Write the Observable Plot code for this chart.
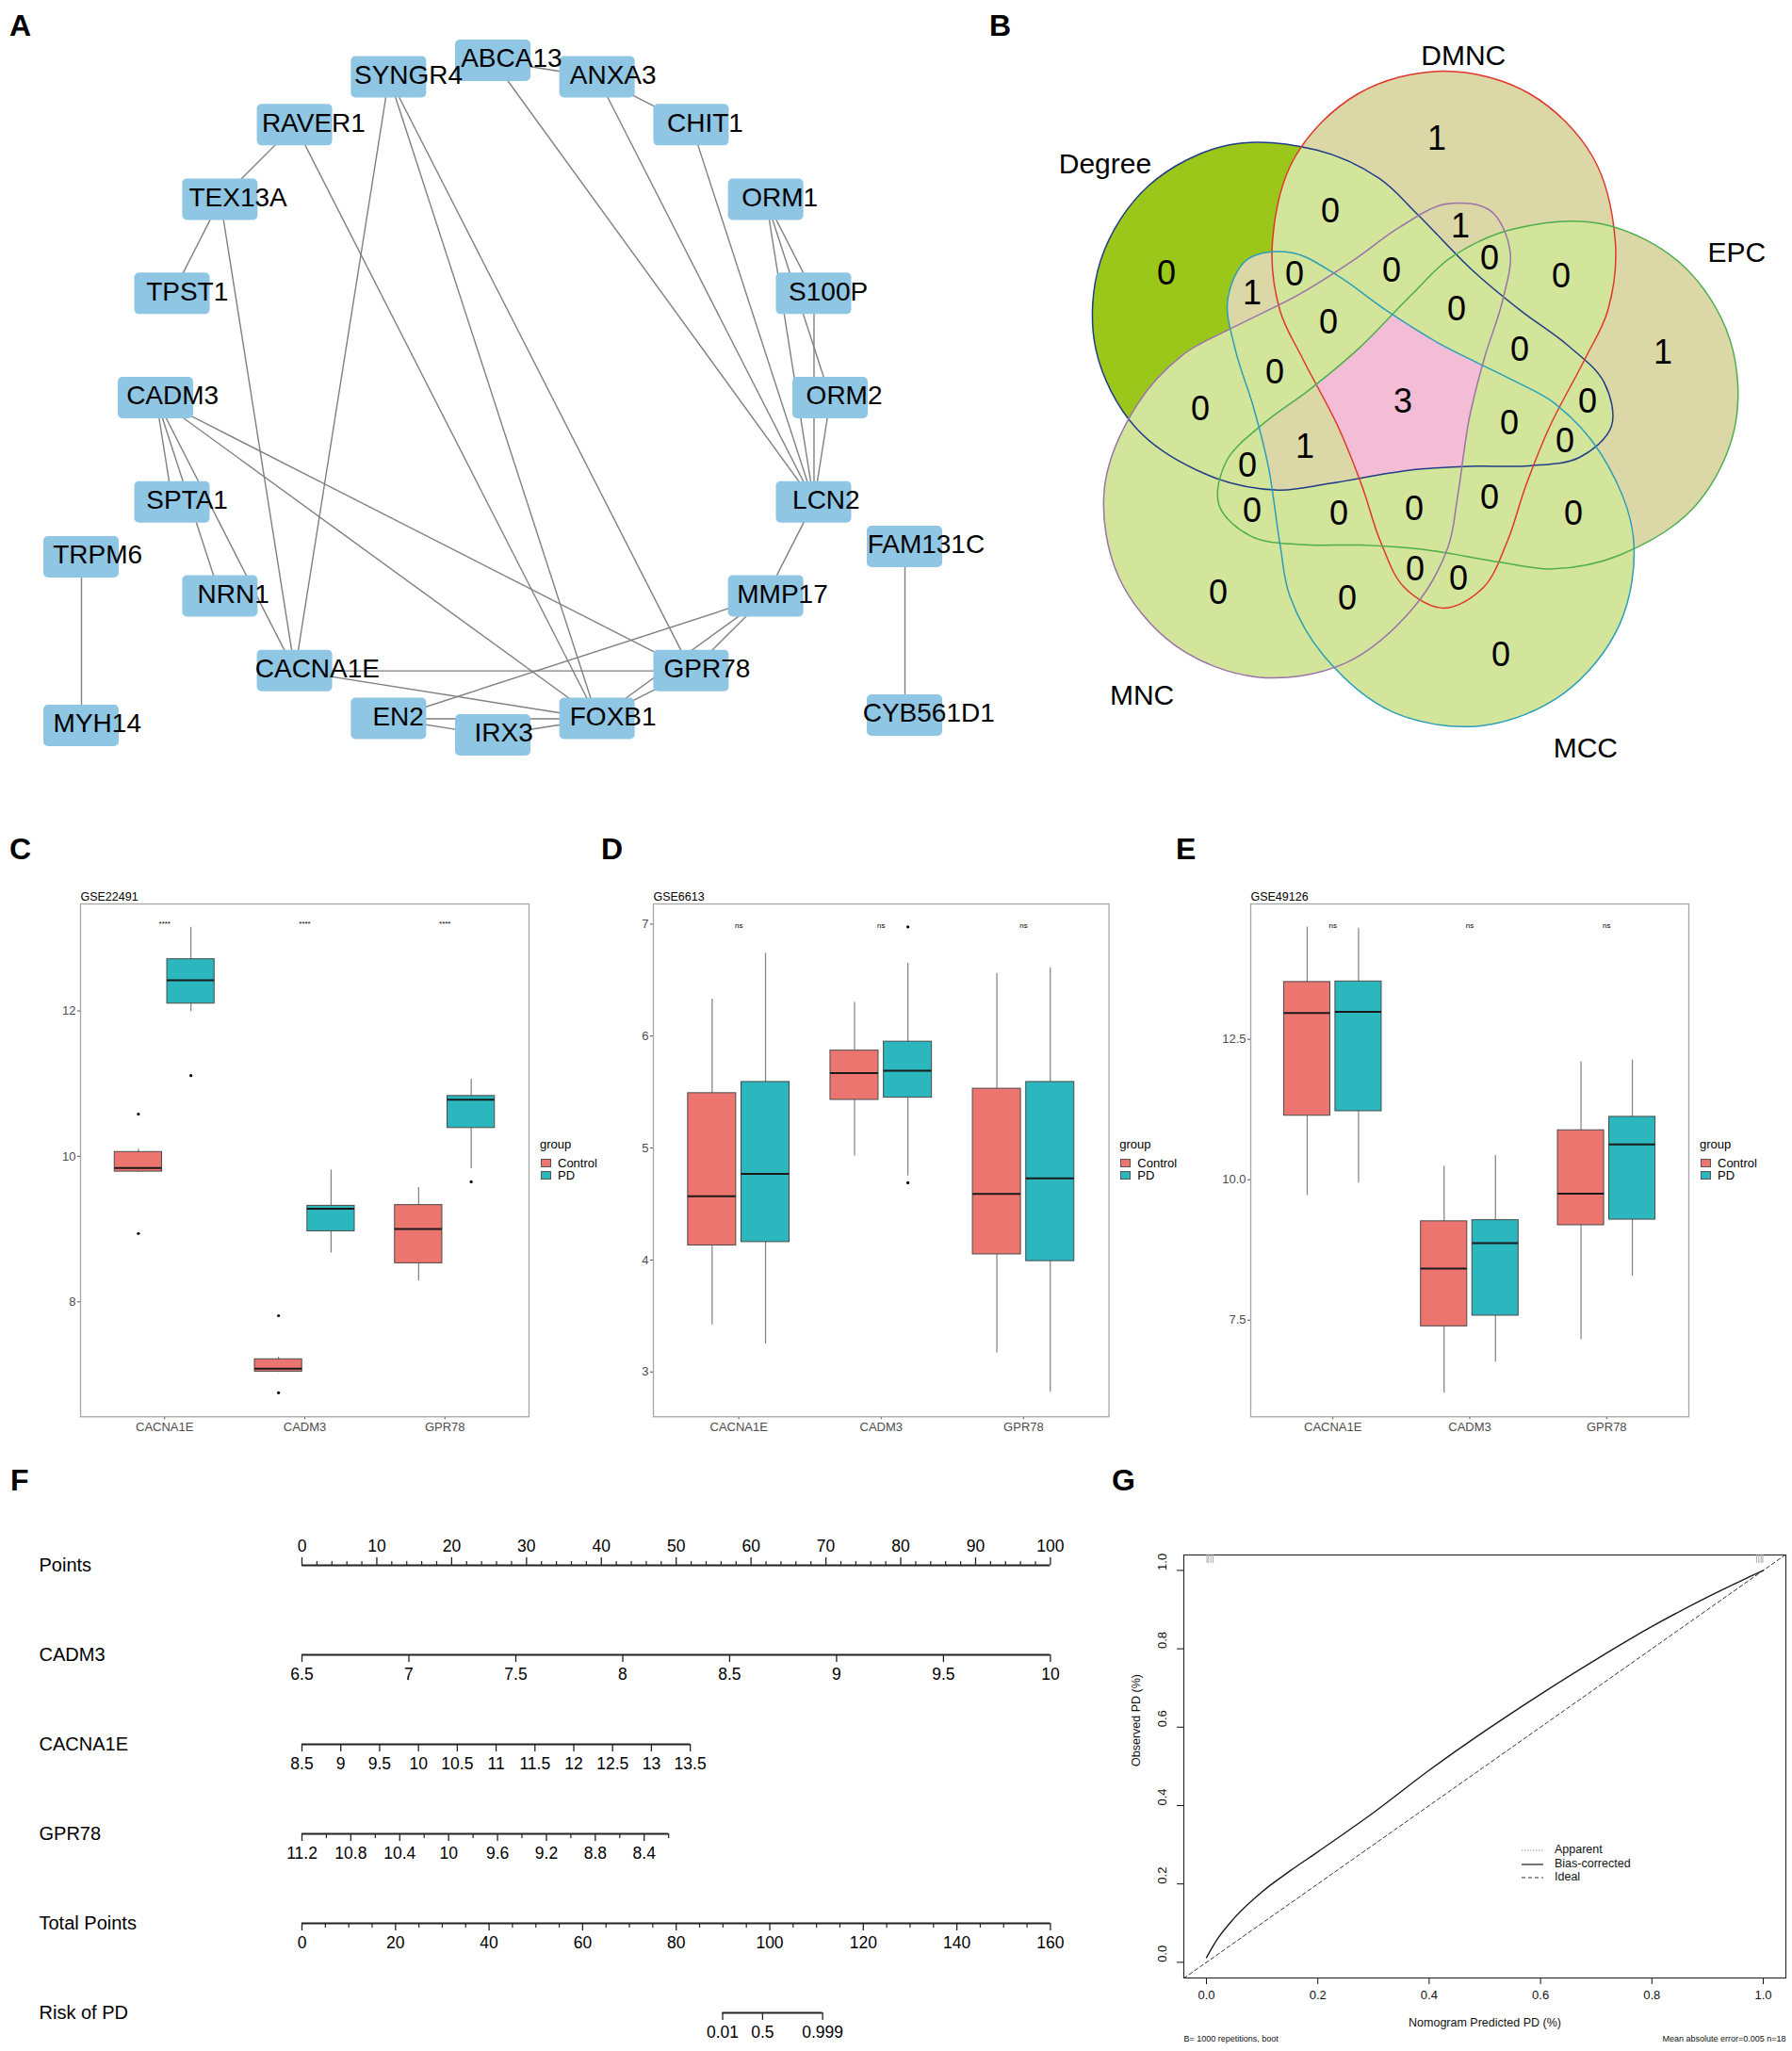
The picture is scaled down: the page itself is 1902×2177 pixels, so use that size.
<!DOCTYPE html>
<html><head><meta charset="utf-8">
<script src="https://cdn.jsdelivr.net/npm/d3@7"></script>
<script src="https://cdn.jsdelivr.net/npm/@observablehq/plot@0.6"></script>
<style>
body{margin:0;background:#fff;}
#fig{position:relative;width:1902px;height:2177px;overflow:hidden;background:#fff;font-family:'Liberation Sans',Arial,Helvetica,sans-serif;}
.panel{position:absolute}
.panel svg{max-width:none!important;overflow:visible}
.letter{position:absolute;font-weight:bold;font-size:32px;line-height:1;color:#000}
.lg{position:absolute;font-size:13px;line-height:13px;color:#000;white-space:nowrap}
</style></head><body><div id="fig"></div><script>
// ===================== DATA =====================
// Panel A: PPI network (circular layout order, clockwise from top)
const circleNodes = ["ABCA13","ANXA3","CHIT1","ORM1","S100P","ORM2","LCN2","MMP17","GPR78","FOXB1",
  "IRX3","EN2","CACNA1E","NRN1","SPTA1","CADM3","TPST1","TEX13A","RAVER1","SYNGR4"];
const pairNodes = [["TRPM6","MYH14"],["FAM131C","CYB561D1"]];
const edges = [
  ["ABCA13","ANXA3"],["ANXA3","CHIT1"],["ABCA13","LCN2"],["ANXA3","LCN2"],["CHIT1","LCN2"],
  ["ORM1","S100P"],["ORM1","ORM2"],["ORM1","LCN2"],["S100P","LCN2"],["ORM2","LCN2"],
  ["LCN2","MMP17"],["MMP17","GPR78"],["MMP17","FOXB1"],["MMP17","EN2"],["GPR78","FOXB1"],
  ["FOXB1","IRX3"],["FOXB1","EN2"],["EN2","IRX3"],["CACNA1E","GPR78"],["CACNA1E","FOXB1"],
  ["SYNGR4","CACNA1E"],["SYNGR4","FOXB1"],["SYNGR4","GPR78"],["RAVER1","TEX13A"],["RAVER1","FOXB1"],
  ["TEX13A","TPST1"],["TEX13A","CACNA1E"],["CADM3","SPTA1"],["CADM3","NRN1"],["CADM3","CACNA1E"],
  ["CADM3","FOXB1"],["CADM3","GPR78"],["TRPM6","MYH14"],["FAM131C","CYB561D1"]
];

// Panel B: five-set Venn (membership key in order of vennSets) and gene counts
const vennSets = ["Degree","DMNC","EPC","MCC","MNC"];
const vennKeys = ["10000","01000","00100","00010","00001",
  "11000","10100","10010","10001","01100","01010","01001","00110","00101","00011",
  "11100","11010","11001","10110","10101","10011","01110","01101","01011","00111",
  "11110","11101","11011","10111","01111","11111"];
const vennCounts = [0,1,1,0,0, 0,0,1,0,0,0,1,0,0,0, 0,0,0,0,0,0,0,0,0,0, 0,0,0,1,0, 3];

// Panels C-E: boxplot summaries per gene: [lower whisker, Q1, median, Q3, upper whisker]
const genes = ["CACNA1E","CADM3","GPR78"];
const groups = ["Control","PD"];
const gse22491Control = [[9.78,9.79,9.84,10.06,10.10],[7.03,7.04,7.08,7.21,7.24],[8.29,8.53,9.00,9.33,9.57]];
const gse22491PD      = [[11.99,12.10,12.42,12.71,13.15],[8.67,8.97,9.28,9.32,9.81],[9.83,10.39,10.78,10.83,11.06]];
const gse22491Out = [{gene:"CACNA1E",group:"Control",value:10.58},{gene:"CACNA1E",group:"Control",value:8.94},
  {gene:"CADM3",group:"Control",value:7.81},{gene:"CADM3",group:"Control",value:6.75},
  {gene:"CACNA1E",group:"PD",value:11.11},{gene:"GPR78",group:"PD",value:9.65}];
const gse6613Control = [[3.42,4.13,4.57,5.49,6.33],[4.93,5.43,5.67,5.87,6.30],[3.17,4.05,4.59,5.53,6.56]];
const gse6613PD      = [[3.25,4.16,4.77,5.59,6.74],[4.75,5.45,5.69,5.95,6.65],[2.82,3.99,4.73,5.59,6.61]];
const gse6613Out = [{gene:"CADM3",group:"PD",value:6.975},{gene:"CADM3",group:"PD",value:4.69}];
const gse49126Control = [[9.72,11.14,12.97,13.52,14.50],[6.20,7.39,8.42,9.26,10.24],[7.15,9.19,9.75,10.88,12.10]];
const gse49126PD      = [[9.94,11.22,12.99,13.53,14.48],[6.75,7.58,8.87,9.28,10.43],[8.28,9.29,10.63,11.12,12.13]];
const gse49126Out = [];

// Panel F: nomogram
const nomoRows = ["Points","CADM3","CACNA1E","GPR78","Total Points","Risk of PD"];
const nomoVars = ["CADM3","CACNA1E","GPR78"];
const nomoRef = [6.5, 8.5, 11.2];          // value that scores 0 points
const nomoSlope = [28.571, 10.376, -16.33]; // points per unit
const cadm3Ticks = [6.5,7,7.5,8,8.5,9,9.5,10];
const cacna1eTicks = [8.5,9,9.5,10,10.5,11,11.5,12,12.5,13,13.5];
const gpr78Labels = [11.2,10.8,10.4,10,9.6,9.2,8.8,8.4];
const gpr78Ticks = [11.2,11,10.8,10.6,10.4,10.2,10,9.8,9.6,9.4,9.2,9,8.8,8.6,8.4,8.2];
const totalMax = 160;
const riskTicks = [0.01, 0.5, 0.999];
const riskMid = 98.47, riskSlope = 0.538;  // total points at p=0.5, logit per point

// Panel G: calibration
const calX = [0, 0.02, 0.05, 0.1, 0.15, 0.2, 0.3, 0.4, 0.5, 0.6, 0.7, 0.8, 0.9, 1.0];
const calY = [0.012, 0.06, 0.113, 0.18, 0.233, 0.282, 0.382, 0.49, 0.59, 0.684, 0.773, 0.857, 0.932, 1.0];
const rugLow = [0.001, 0.004, 0.008, 0.012];
const rugHigh = [0.988, 0.992, 0.996, 0.999];

// ===================== HELPERS =====================
const FONT = "'Liberation Sans', Arial, Helvetica, sans-serif";
const fig = document.getElementById("fig");
function place(el, left, top) {
  const w = document.createElement("div"); w.className = "panel";
  w.style.left = left + "px"; w.style.top = top + "px";
  w.appendChild(el); fig.appendChild(w); return w;
}
function letter(t, left, top) {
  const d = document.createElement("div"); d.className = "letter"; d.textContent = t;
  d.style.left = left + "px"; d.style.top = top + "px"; fig.appendChild(d);
}
const baseStyle = {fontFamily: FONT, background: "transparent", overflow: "visible", maxWidth: "none"};
const CTRL_COL = "#ec7570", PD_COL = "#2bb7bd";

// ===================== PANEL A =====================
{
  const cx = 523, cy = 422, R = 358;
  const pos = new Map();
  circleNodes.forEach((n, i) => {
    const a = 2 * Math.PI * i / circleNodes.length;
    pos.set(n, {x: cx + R * Math.sin(a), y: cy - R * Math.cos(a)});
  });
  const pairLayout = [{dx: -437, dy: 169}, {dx: 437, dy: 158}], pairGap = 179;
  pairNodes.forEach((p, k) => p.forEach((n, j) => pos.set(n, {x: cx + pairLayout[k].dx, y: cy + pairLayout[k].dy + j * pairGap})));
  const ctx = document.createElement("canvas").getContext("2d");
  ctx.font = "28px " + FONT;
  const nodes = [...pos].map(([name, p]) => ({name, x: p.x, y: p.y, lx: p.x + 0.18 * ctx.measureText(name).width}));
  const links = edges.map(([a, b]) => ({x1: pos.get(a).x, y1: pos.get(a).y, x2: pos.get(b).x, y2: pos.get(b).y}));
  const p = Plot.plot({
    width: 1050, height: 830, margin: 0,
    style: baseStyle,
    x: {domain: [0, 1050], range: [0, 1050], axis: null},
    y: {domain: [0, 830], range: [0, 830], axis: null},
    marks: [
      Plot.link(links, {x1: "x1", y1: "y1", x2: "x2", y2: "y2", stroke: "#808080", strokeWidth: 1.4}),
      Plot.rect(nodes, {x1: d => d.x - 40, x2: d => d.x + 40, y1: d => d.y - 22, y2: d => d.y + 22, fill: "#8fc6e4", rx: 5}),
      Plot.text(nodes, {x: "lx", y: "y", text: "name", fontSize: 28, fill: "#000", dy: -2})
    ]
  });
  place(p, 0, 0);
  letter("A", 10, 11);
}

// ===================== PANEL B =====================
{
  const X0 = 1100, WB = 802, HB = 830;
  const C = [1488, 426], B0 = [1532, 257];
  const rot = [-72, 0, 72, 144, 216];
  const strokes = ["#203c88", "#e0352c", "#4cae4f", "#2a9fb9", "#9a73a9"];
  // petal shape: (lateral, along-axis) control points relative to the big-end centre
  const profile = [[0,-182],[91,-158],[158,-91],[182,0],[174,72],[150,123],[112,196],[87,258],[67,318],[42,366],[0,388]];
  const petal = profile.concat(profile.slice(1, -1).reverse().map(([l, a]) => [-l, a]));
  const shapes = rot.map(deg => {
    const t = deg * Math.PI / 180, c = Math.cos(t), s = Math.sin(t);
    const dx = B0[0] - C[0], dy = B0[1] - C[1];
    const bx = C[0] + dx * c - dy * s, by = C[1] + dx * s + dy * c, ux = -s, uy = c;
    return {bx, by, pts: petal.map(([l, a]) => [bx + l * uy + a * ux, by - l * ux + a * uy])};
  });
  // rasterise each petal to a membership mask
  const cv = document.createElement("canvas"); cv.width = WB; cv.height = HB;
  const g = cv.getContext("2d");
  const mask = new Uint8Array(WB * HB);
  shapes.forEach((sh, si) => {
    g.clearRect(0, 0, WB, HB); g.beginPath();
    d3.line().curve(d3.curveCatmullRomClosed).context(g)(sh.pts.map(([x, y]) => [x - X0, y]));
    g.fillStyle = "#000"; g.fill();
    const data = g.getImageData(0, 0, WB, HB).data;
    for (let i = 0; i < WB * HB; i++) if (data[4 * i + 3] >= 128) mask[i] |= (16 >> si);
  });
  const fillByCount = {0: "#d3e49b", 1: "#dcd7a7", 3: "#f4bdd6"};
  const highlight = {"10000": "#9bc71b"};
  const colorByMask = new Array(32).fill("#ffffff");
  const countByMask = new Array(32).fill(null);
  vennKeys.forEach((k, i) => {
    const m = parseInt(k, 2);
    colorByMask[m] = highlight[k] || fillByCount[vennCounts[i]] || "#d3e49b";
    countByMask[m] = vennCounts[i];
  });
  // label positions: pole of inaccessibility of each region (chamfer distance transform)
  const nx = WB, ny = HB, M = mask;
  const D = new Float32Array(nx * ny);
  for (let j = 0; j < ny; j++) for (let i = 0; i < nx; i++) {
    const id = j * nx + i, m = M[id];
    let b = i === 0 || j === 0 || i === nx - 1 || j === ny - 1;
    if (!b) b = M[id - 1] !== m || M[id + 1] !== m || M[id - nx] !== m || M[id + nx] !== m;
    D[id] = b ? 0 : 1e9;
  }
  const S2 = Math.SQRT2;
  for (let j = 1; j < ny; j++) for (let i = 1; i < nx - 1; i++) {
    const id = j * nx + i;
    D[id] = Math.min(D[id], D[id - 1] + 1, D[id - nx] + 1, D[id - nx - 1] + S2, D[id - nx + 1] + S2);
  }
  for (let j = ny - 2; j >= 0; j--) for (let i = nx - 2; i > 0; i--) {
    const id = j * nx + i;
    D[id] = Math.min(D[id], D[id + 1] + 1, D[id + nx] + 1, D[id + nx + 1] + S2, D[id + nx - 1] + S2);
  }
  const best = new Array(32).fill(null);
  for (let id = 0; id < nx * ny; id++) {
    const m = M[id]; if (!m) continue;
    if (!best[m] || D[id] > best[m].d) best[m] = {d: D[id], x: X0 + id % nx + .5, y: Math.floor(id / nx) + .5};
  }
  const labels = [];
  best.forEach((b, m) => { if (b && countByMask[m] != null) labels.push({x: b.x, y: b.y, n: countByMask[m]}); });
  const outline = [];
  shapes.forEach((sh, si) => sh.pts.forEach(([x, y]) => outline.push({set: vennSets[si], col: strokes[si], x, y})));
  const labAng = [-136.8, -84, -39.2, 57.5, 125.1], labDist = [231, 199, 233, 243, 246];
  const setLabels = shapes.map((sh, i) => ({name: vennSets[i], x: sh.bx + labDist[i] * Math.cos(labAng[i] * Math.PI / 180), y: sh.by + labDist[i] * Math.sin(labAng[i] * Math.PI / 180)}));
  const maskFill = (x, y) => {
    const i = Math.min(WB - 1, Math.max(0, Math.floor(x - X0))), j = Math.min(HB - 1, Math.max(0, Math.floor(y)));
    return colorByMask[mask[j * WB + i]];
  };
  let fillMark;
  if (Plot.raster) {
    fillMark = Plot.raster({x1: X0, x2: X0 + WB, y1: 0, y2: HB, width: WB, height: HB, fill: maskFill});
  } else {
    const c2 = document.createElement("canvas"); c2.width = WB; c2.height = HB;
    const g2 = c2.getContext("2d");
    for (let j = 0; j < HB; j++) for (let i = 0; i < WB; i++) { g2.fillStyle = maskFill(X0 + i + .5, j + .5); g2.fillRect(i, j, 1, 1); }
    fillMark = Plot.image([0], {x: X0 + WB / 2, y: HB / 2, width: WB, height: HB, src: c2.toDataURL(), preserveAspectRatio: "none"});
  }
  const p = Plot.plot({
    width: WB, height: HB, margin: 0, style: baseStyle,
    x: {domain: [X0, X0 + WB], range: [0, WB], axis: null},
    y: {domain: [0, HB], range: [0, HB], axis: null},
    color: {type: "identity"},
    marks: [
      fillMark,
      Plot.line(outline, {x: "x", y: "y", z: "set", stroke: "col", strokeWidth: 1.5, curve: "catmull-rom-closed"}),
      Plot.text(labels, {x: "x", y: "y", text: "n", fontSize: 36, fill: "#000"}),
      Plot.text(setLabels, {x: "x", y: "y", text: "name", fontSize: 30, fill: "#000"})
    ]
  });
  place(p, X0, 0);
  letter("B", 1050, 11);
}

// ===================== PANELS C-E =====================
function boxLegend(left, top) {
  const items = [["group", null], ["Control", CTRL_COL], ["PD", PD_COL]];
  items.forEach(([t, col], i) => {
    const d = document.createElement("div"); d.className = "lg";
    d.style.left = (left + (col ? 19 : 0)) + "px"; d.style.top = (top + (i === 0 ? 0 : 7 + i * 13)) + "px";
    d.textContent = t; fig.appendChild(d);
    if (col) {
      const k = document.createElement("div");
      k.style.cssText = `position:absolute;left:${left + 1}px;top:${top + 9 + i * 13}px;width:9px;height:7px;background:${col};border:1px solid #555;`;
      fig.appendChild(k);
    }
  });
}
function boxPanel(title, ctrl, pd, outliers, sigText, sigY, yDomain, yTicks, yFmt, frame) {
  const boxes = [];
  genes.forEach((g, i) => [ctrl, pd].forEach((arr, k) => {
    const [lo, q1, med, q3, hi] = arr[i];
    const xc = i + 1 + (k ? 0.1875 : -0.1875);
    boxes.push({gene: g, group: groups[k], xc, xa: xc - 0.16875, xb: xc + 0.16875, lo, q1, med, q3, hi});
  }));
  const outs = outliers.map(o => ({...o, xc: genes.indexOf(o.gene) + 1 + (o.group === "PD" ? 0.1875 : -0.1875)}));
  const ML = 45, MR = 12, MT = 40, MB = 40;
  const fw = frame.x2 - frame.x1, fh = frame.y2 - frame.y1;
  const p = Plot.plot({
    width: fw + ML + MR, height: fh + MT + MB, marginLeft: ML, marginRight: MR, marginTop: MT, marginBottom: MB,
    style: {...baseStyle, fontSize: "13px", color: "#4d4d4d"},
    x: {domain: [0.4, 3.6], ticks: [1, 2, 3], tickFormat: d => genes[d - 1], tickSize: 3, tickPadding: 3, label: null},
    y: {domain: yDomain, ticks: yTicks, tickFormat: yFmt, tickSize: 3, tickPadding: 2, label: null},
    marks: [
      Plot.ruleX(boxes, {x: "xc", y1: "lo", y2: "hi", stroke: "#808080", strokeWidth: 1.2}),
      Plot.rect(boxes, {x1: "xa", x2: "xb", y1: "q1", y2: "q3", fill: d => d.group === "PD" ? PD_COL : CTRL_COL, stroke: "#4a4a4a", strokeWidth: 1}),
      Plot.ruleY(boxes, {y: "med", x1: "xa", x2: "xb", stroke: "#1a1a1a", strokeWidth: 2}),
      Plot.dot(outs, {x: "xc", y: "value", r: 1.6, fill: "#000"}),
      Plot.text(genes, {x: (d, i) => i + 1, y: () => sigY, text: () => sigText, fontSize: 8, fill: "#000"}),
      Plot.frame({stroke: "#a6a6a6", strokeWidth: 1.3}),
      Plot.text([title], {frameAnchor: "top-left", text: d => d, dy: -3, lineAnchor: "bottom", fontSize: 12.5, fill: "#000"})
    ]
  });
  place(p, frame.x1 - ML, frame.y1 - MT);
  boxLegend(frame.x2 + 12, 1208);
}
boxPanel("GSE22491", gse22491Control, gse22491PD, gse22491Out, "****", 13.2, [6.42, 13.47], [8, 10, 12], d => d, {x1: 85, x2: 561, y1: 958.7, y2: 1503});
boxPanel("GSE6613", gse6613Control, gse6613PD, gse6613Out, "ns", 6.99, [2.60, 7.18], [3, 4, 5, 6, 7], d => d, {x1: 692.7, x2: 1176.3, y1: 958.7, y2: 1503});
boxPanel("GSE49126", gse49126Control, gse49126PD, gse49126Out, "ns", 14.53, [5.78, 14.91], [7.5, 10, 12.5], d3.format(".1f"), {x1: 1327, x2: 1792, y1: 958.7, y2: 1503});
letter("C", 10, 885); letter("D", 638, 885); letter("E", 1248, 885);

// ===================== PANEL F =====================
{
  const varPts = (name, v) => { const i = nomoVars.indexOf(name); return (v - nomoRef[i]) * nomoSlope[i]; };
  const tp2x = tp => tp / totalMax * 100;
  const riskTP = p => riskMid + Math.log(p / (1 - p)) / riskSlope;
  const fmt = v => String(+v.toFixed(3));
  const lines = [], up = [], upMinor = [], down = [], downMinor = [], labUp = [], labDown = [];
  lines.push({row: "Points", p1: 0, p2: 100});
  d3.range(0, 101, 2).forEach(v => (v % 10 === 0 ? up : upMinor).push({row: "Points", p: v}));
  d3.range(0, 101, 10).forEach(v => labUp.push({row: "Points", p: v, t: fmt(v)}));
  const addVar = (name, ticks, labs) => {
    const ps = ticks.map(v => varPts(name, v));
    lines.push({row: name, p1: d3.min(ps), p2: d3.max(ps)});
    ticks.forEach(v => (labs.includes(v) ? down : downMinor).push({row: name, p: varPts(name, v)}));
    labs.forEach(v => labDown.push({row: name, p: varPts(name, v), t: fmt(v)}));
  };
  addVar("CADM3", cadm3Ticks, cadm3Ticks);
  addVar("CACNA1E", cacna1eTicks, cacna1eTicks);
  addVar("GPR78", gpr78Ticks, gpr78Labels);
  lines.push({row: "Total Points", p1: 0, p2: 100});
  d3.range(0, totalMax + 1, 5).forEach(v => (v % 20 === 0 ? down : downMinor).push({row: "Total Points", p: tp2x(v)}));
  d3.range(0, totalMax + 1, 20).forEach(v => labDown.push({row: "Total Points", p: tp2x(v), t: fmt(v)}));
  const rp = riskTicks.map(r => tp2x(riskTP(r)));
  lines.push({row: "Risk of PD", p1: d3.min(rp), p2: d3.max(rp)});
  riskTicks.forEach((r, i) => { down.push({row: "Risk of PD", p: rp[i]}); labDown.push({row: "Risk of PD", p: rp[i], t: fmt(r)}); });

  const p = Plot.plot({
    width: 1180, height: 627, margin: 0, style: {...baseStyle, fontSize: "17px", color: "#000"},
    x: {domain: [0, 100], range: [320, 1114.4], axis: null},
    y: {type: "point", domain: nomoRows, range: [110, 587], padding: 0, axis: null},
    marks: [
      Plot.ruleY(lines, {y: "row", x1: "p1", x2: "p2", stroke: "#222", strokeWidth: 1.8}),
      Plot.ruleX(up, {x: "p", y1: "row", y2: "row", insetTop: -8, stroke: "#222", strokeWidth: 1.3}),
      Plot.ruleX(upMinor, {x: "p", y1: "row", y2: "row", insetTop: -4, stroke: "#222", strokeWidth: 1.2}),
      Plot.ruleX(down, {x: "p", y1: "row", y2: "row", insetBottom: -8, stroke: "#222", strokeWidth: 1.3}),
      Plot.ruleX(downMinor, {x: "p", y1: "row", y2: "row", insetBottom: -5, stroke: "#222", strokeWidth: 1.2}),
      Plot.text(labUp, {x: "p", y: "row", text: "t", dy: -20, fontSize: 17.5, fill: "#000"}),
      Plot.text(labDown, {x: "p", y: "row", text: "t", dy: 21, fontSize: 17.5, fill: "#000"}),
      Plot.text(nomoRows, {y: d => d, text: d => d, frameAnchor: "left", dx: 41, textAnchor: "start", fontSize: 20, fill: "#000"})
    ]
  });
  place(p, 0, 1550);
  letter("F", 11, 1555);
}

// ===================== PANEL G =====================
{
  const xd = [-0.0406, 1.0406], yd = [-0.04, 1.0394];
  const cal = calX.map((x, i) => ({x, y: calY[i]}));
  const ideal = [xd[0], xd[1]].map(v => ({x: v, y: v}));
  const rug = [...rugLow, ...rugHigh];
  const yT = [0, 0.2, 0.4, 0.6, 0.8, 1.0];
  const p = Plot.plot({
    width: 722, height: 627, marginLeft: 76, marginRight: 7, marginTop: 100, marginBottom: 78,
    style: {...baseStyle, fontSize: "13px", color: "#111"},
    x: {domain: xd, ticks: yT, tickFormat: d3.format(".1f"), tickSize: 7, tickPadding: 6, label: null},
    y: {domain: yd, ticks: yT, tickFormat: () => "", tickSize: 7, label: null},
    marks: [
      Plot.frame({stroke: "#222", strokeWidth: 1.1}),
      Plot.ruleX(rug, {x: d => d, y1: () => yd[1], y2: () => yd[1], insetBottom: -9, stroke: "#aaa", strokeWidth: 1}),
      Plot.line(ideal, {x: "x", y: "y", stroke: "#333", strokeWidth: 1, strokeDasharray: "4,3", clip: true}),
      Plot.line(cal, {x: "x", y: "y", stroke: "#1a1a1a", strokeWidth: 1.4, curve: "monotone-x"}),
      Plot.text(yT, {y: d => d, text: d3.format(".1f"), frameAnchor: "left", dx: -23, rotate: -90, fontSize: 13, fill: "#111"}),
      Plot.text(["Nomogram Predicted PD (%)"], {text: d => d, frameAnchor: "bottom", dy: 51, fontSize: 12.5, fill: "#111"}),
      Plot.text(["Observed PD (%)"], {text: d => d, frameAnchor: "left", dx: -51, rotate: -90, fontSize: 12.5, fill: "#111"}),
      Plot.text(["B= 1000 repetitions, boot"], {text: d => d, frameAnchor: "bottom-left", textAnchor: "start", dy: 67, fontSize: 9, fill: "#111"}),
      Plot.text(["Mean absolute error=0.005 n=18"], {text: d => d, frameAnchor: "bottom-right", textAnchor: "end", dy: 67, fontSize: 9, fill: "#111"})
    ]
  });
  place(p, 1180, 1550);
  const items = [["Apparent", "#999", "1.5,1.5"], ["Bias-corrected", "#1a1a1a", ""], ["Ideal", "#333", "4,3"]];
  const svgns = "http://www.w3.org/2000/svg";
  items.forEach(([t, col, dash], i) => {
    const y = 1964 + i * 14.5;
    const s = document.createElementNS(svgns, "svg");
    s.setAttribute("width", 26); s.setAttribute("height", 6);
    s.style.cssText = `position:absolute;left:1613px;top:${y - 3}px`;
    const l = document.createElementNS(svgns, "line");
    l.setAttribute("x1", 2); l.setAttribute("x2", 25); l.setAttribute("y1", 3); l.setAttribute("y2", 3);
    l.setAttribute("stroke", col); l.setAttribute("stroke-width", 1.2); if (dash) l.setAttribute("stroke-dasharray", dash);
    s.appendChild(l); fig.appendChild(s);
    const d = document.createElement("div"); d.className = "lg";
    d.style.cssText += `;left:1650px;top:${y - 7}px;font-size:12.5px;color:#111`;
    d.textContent = t; fig.appendChild(d);
  });
  letter("G", 1180, 1555);
}
</script></body></html>
